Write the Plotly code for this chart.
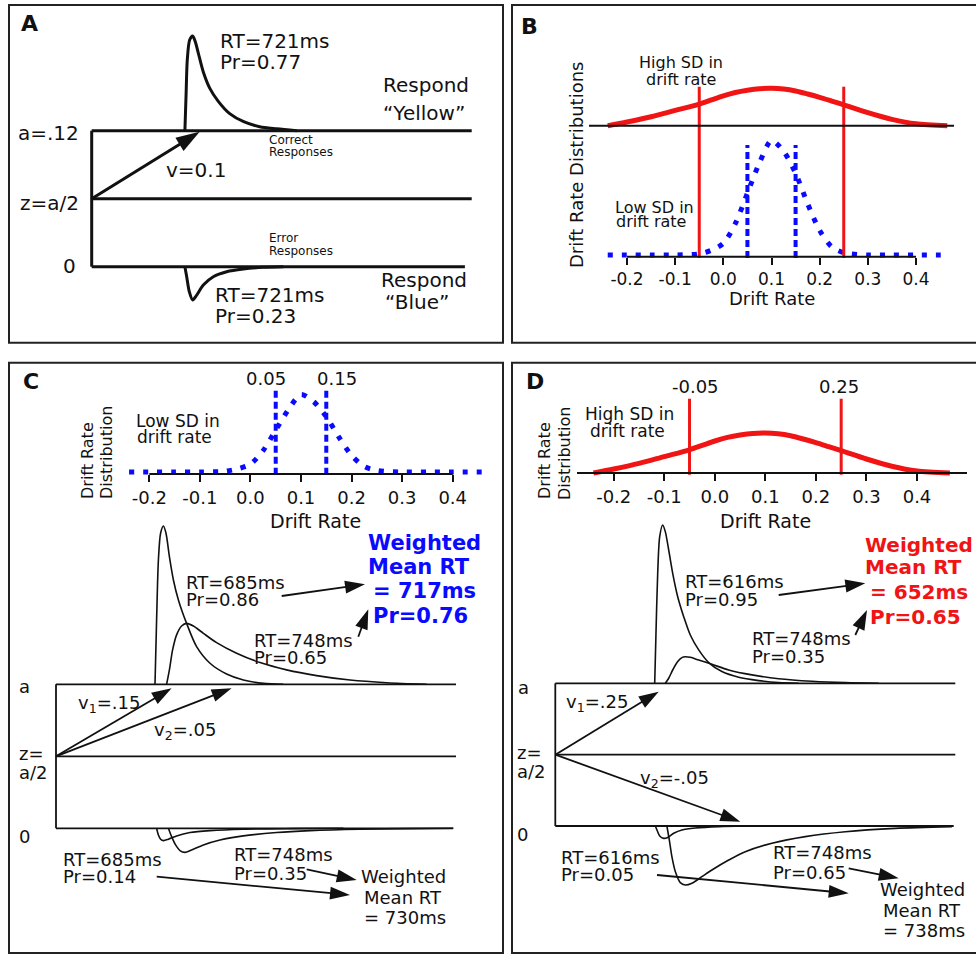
import plotly.graph_objects as go

W, H = 976, 956
FONT = "DejaVu Sans"
INK = "#111111"
BLUE = "#0a0aff"
RED = "#f01414"

# ---------------- data ----------------
drift_grid = [-0.24, -0.2, -0.15, -0.1, -0.05, -0.025, 0.0, 0.025, 0.05, 0.075, 0.1,
              0.125, 0.15, 0.175, 0.2, 0.225, 0.25, 0.3, 0.35, 0.4, 0.465]
low_sd_density = [0, 0, 0, 0, 0.01, 0.04, 0.10, 0.27, 0.53, 0.79, 0.98,
                  0.89, 0.70, 0.44, 0.21, 0.07, 0.02, 0, 0, 0, 0]
high_sd_density = [0.0, 0.10, 0.24, 0.41, 0.58, 0.69, 0.80, 0.89, 0.95, 0.99, 1.0,
                   0.98, 0.93, 0.85, 0.76, 0.66, 0.56, 0.35, 0.17, 0.05, 0.0]
high_to_low_peak_ratio = 0.32
drift_ticks = [-0.2, -0.1, 0.0, 0.1, 0.2, 0.3, 0.4]
drift_tick_labels = ["-0.2", "-0.1", "0.0", "0.1", "0.2", "0.3", "0.4"]
low_sd_marks = [0.05, 0.15]
high_sd_marks = [-0.05, 0.25]

# Panel A: one drift rate; boundary a=.12, start z=a/2 (time in s, density rel. to correct peak)
bound_A = 0.12
start_A = 0.06
a_t_correct = [0.466, 0.472, 0.478, 0.49, 0.505, 0.518, 0.533, 0.558, 0.59, 0.633, 0.69, 0.76, 0.84, 0.925, 1.025]
a_d_correct = [0, 0.39, 0.75, 0.96, 1.0, 0.94, 0.82, 0.62, 0.45, 0.31, 0.18, 0.095, 0.042, 0.02, 0.0]
a_t_error = [0.466, 0.475, 0.488, 0.505, 0.525, 0.558, 0.608, 0.675, 0.758, 0.858, 0.958]
a_d_error = [0, 0.106, 0.264, 0.352, 0.30, 0.194, 0.106, 0.053, 0.025, 0.007, 0]

# Panels C, D: relative boundary a=1, start z=a/2
bound = 1.0
start = 0.5
c_t_fast_correct = [0.495, 0.503, 0.512, 0.523, 0.537, 0.55, 0.567, 0.587, 0.612, 0.653, 0.703, 0.77, 0.853, 0.937, 1.037, 1.137]
c_d_fast_correct = [0, 0.406, 0.785, 0.954, 1.0, 0.954, 0.806, 0.659, 0.533, 0.385, 0.238, 0.133, 0.065, 0.027, 0.006, 0]
c_t_slow_correct = [0.553, 0.567, 0.583, 0.603, 0.628, 0.653, 0.687, 0.737, 0.803, 0.903, 1.02, 1.153, 1.303, 1.47, 1.653, 1.853]
c_d_slow_correct = [0, 0.091, 0.217, 0.312, 0.368, 0.385, 0.368, 0.322, 0.263, 0.196, 0.137, 0.091, 0.055, 0.027, 0.01, 0]
c_t_fast_error = [0.503, 0.512, 0.523, 0.537, 0.562, 0.603, 0.67, 0.77, 0.937, 1.187, 1.437]
c_d_fast_error = [0, 0.042, 0.069, 0.078, 0.069, 0.048, 0.027, 0.015, 0.006, 0.002, 0]
c_t_slow_error = [0.562, 0.578, 0.598, 0.62, 0.645, 0.678, 0.737, 0.82, 0.937, 1.103, 1.27, 1.52, 1.77, 1.987]
c_d_slow_error = [0, 0.053, 0.105, 0.141, 0.152, 0.137, 0.105, 0.074, 0.048, 0.027, 0.015, 0.006, 0.002, 0]

d_t_fast_correct = [0.497, 0.503, 0.512, 0.522, 0.537, 0.55, 0.567, 0.587, 0.612, 0.642, 0.675, 0.717, 0.767, 0.833, 0.917, 1.017, 1.117, 1.217]
d_d_fast_correct = [0, 0.295, 0.695, 0.926, 1.0, 0.958, 0.842, 0.695, 0.547, 0.421, 0.305, 0.211, 0.131, 0.074, 0.038, 0.017, 0.004, 0]
d_t_slow_correct = [0.55, 0.567, 0.587, 0.612, 0.633, 0.65, 0.675, 0.717, 0.783, 0.867, 0.983, 1.117, 1.283, 1.45, 1.617]
d_d_slow_correct = [0, 0.032, 0.084, 0.137, 0.162, 0.168, 0.164, 0.147, 0.12, 0.084, 0.053, 0.029, 0.013, 0.004, 0]
d_t_fast_error = [0.5, 0.512, 0.522, 0.542, 0.562, 0.592, 0.633, 0.7, 0.817, 0.95]
d_d_fast_error = [0, 0.036, 0.063, 0.078, 0.072, 0.046, 0.025, 0.013, 0.004, 0]
d_t_slow_error = [0.558, 0.57, 0.583, 0.6, 0.625, 0.65, 0.683, 0.733, 0.783, 0.867, 0.95, 1.083, 1.25, 1.45, 1.7, 1.983]
d_d_slow_error = [0, 0.088, 0.194, 0.288, 0.358, 0.373, 0.362, 0.32, 0.278, 0.215, 0.162, 0.109, 0.067, 0.036, 0.015, 0.004]

# ---------------- layout helpers ----------------
fig = go.Figure()
layout = {}
shapes = []
annotations = []


def px(x):
    return x / W


def py(y):
    return 1 - y / H


def names(n):
    return ("x" if n == 1 else f"x{n}"), ("y" if n == 1 else f"y{n}")


def add_axes(n, xdom, ydom, xmap, ymap):
    pa, va, pb, vb = xmap
    qa, wa, qb, wb = ymap

    def fx(p):
        return va + (p - pa) * (vb - va) / (pb - pa)

    def fy(q):
        return wa + (q - qa) * (wb - wa) / (qb - qa)

    xn = "xaxis" if n == 1 else f"xaxis{n}"
    yn = "yaxis" if n == 1 else f"yaxis{n}"
    layout[xn] = dict(domain=[px(xdom[0]), px(xdom[1])], range=[fx(xdom[0]), fx(xdom[1])],
                      anchor=names(n)[1], visible=False, fixedrange=True)
    ytop, ybot = ydom
    layout[yn] = dict(domain=[py(ybot), py(ytop)], range=[fy(ybot), fy(ytop)],
                      anchor=names(n)[0], visible=False, fixedrange=True)
    return fx, fy


def drift_axis(n, axis_py, fontsize):
    xn = f"xaxis{n}"
    layout[xn].update(dict(visible=True, anchor="free", position=py(axis_py), showline=False,
                           showgrid=False, zeroline=False, tickvals=drift_ticks,
                           ticktext=drift_tick_labels, ticks="outside", ticklen=7, tickwidth=2,
                           tickcolor=INK, tickfont=dict(family=FONT, size=fontsize, color=INK)))


def line(n, x, y, width, color=INK, dash=None, spline=False):
    xa, ya = names(n)
    ln = dict(width=width, color=color)
    if dash:
        ln["dash"] = dash
    if spline:
        ln["shape"] = "spline"
        ln["smoothing"] = 0.8
    fig.add_trace(go.Scatter(x=x, y=y, xaxis=xa, yaxis=ya, mode="lines", line=ln,
                             hoverinfo="skip", showlegend=False))


def arrow(n, x0, y0, x1, y1, width, size, color=INK):
    xa, ya = names(n)
    fig.add_trace(go.Scatter(x=[x0, x1], y=[y0, y1], xaxis=xa, yaxis=ya, mode="lines+markers",
                             line=dict(width=width, color=color),
                             marker=dict(symbol="arrow", size=[0, size], angleref="previous",
                                         color=color, opacity=1, line=dict(width=0)),
                             hoverinfo="skip", showlegend=False))


def T(text, x, y, size=18, anchor="left", color=INK, bold=False, angle=0):
    if bold:
        text = f"<b>{text}</b>"
    annotations.append(dict(text=text, x=px(x), y=py(y), xref="paper", yref="paper",
                            xanchor=anchor, yanchor="middle", showarrow=False, borderpad=0,
                            textangle=angle, font=dict(family=FONT, size=size, color=color)))


def frame(x0, y0, x1, y1):
    shapes.append(dict(type="rect", xref="paper", yref="paper", x0=px(x0), x1=px(x1),
                       y0=py(y1), y1=py(y0), line=dict(color="#222222", width=2)))


frame(9, 5, 503, 342.7)
frame(512, 5, 990, 342.7)
frame(9, 362.7, 503, 953)
frame(512, 362.7, 990, 953)

# ---------------- Panel A ----------------
fxA, fyA = add_axes(1, (40, 500), (12, 338), (91.7, 0, 291.7, 1), (266.7, 0, 130.7, bound_A))
A_SCALE = bound_A * 94.7 / 136.0
tA_end, tA_end_low = 1.9, 1.866
line(1, [0, tA_end], [bound_A, bound_A], 3)
line(1, [0, tA_end], [start_A, start_A], 3)
line(1, [0, tA_end_low], [0, 0], 3)
line(1, [0, 0], [0, bound_A], 3)
line(1, a_t_correct, [bound_A + d * A_SCALE for d in a_d_correct], 3, spline=True)
line(1, a_t_error, [0 - d * A_SCALE for d in a_d_error], 3, spline=True)
arrow(1, 0, start_A, 0.54, 0.119, 3, 25)

T("A", 20, 24, 22, bold=True)
T("a=.12", 80, 133, 20, anchor="right")
T("z=a/2", 80, 203, 20, anchor="right")
T("0", 77, 266, 20, anchor="right")
T("v=0.1", 165, 170, 20)
T("RT=721ms", 219, 41, 20)
T("Pr=0.77", 219, 62, 20)
T("Respond", 382, 85, 20)
T("\u201cYellow\u201d", 382, 113, 20)
T("Correct", 268, 140, 12)
T("Responses", 268, 152, 12)
T("Error", 268, 238, 12)
T("Responses", 268, 251, 12)
T("RT=721ms", 214, 295, 20)
T("Pr=0.23", 214, 316, 20)
T("Respond", 380, 280, 20)
T("\u201cBlue\u201d", 417, 302, 20, anchor="center")

# ---------------- Panel B ----------------
fxB, fyB = add_axes(2, (580, 970), (40, 268), (627, -0.2, 916, 0.4), (255, 0, 138.3, 1))
drift_axis(2, 256.7, 17)
red_base_B = fyB(125.7)
shapes.append(dict(type="line", xref="x2", yref="y2", x0=fxB(589), x1=fxB(954), y0=red_base_B,
                   y1=red_base_B, line=dict(color=INK, width=2)))
shapes.append(dict(type="line", xref="x2", yref="y2", x0=-0.2, x1=0.4, y0=fyB(256.7),
                   y1=fyB(256.7), line=dict(color=INK, width=2)))
line(2, drift_grid, [red_base_B + d * high_to_low_peak_ratio for d in high_sd_density], 5, RED, spline=True)
line(2, drift_grid, low_sd_density, 5, BLUE, dash="5px,9px", spline=True)
for m in high_sd_marks:
    line(2, [m, m], [fyB(258), fyB(86.7)], 3, RED)
for m in low_sd_marks:
    line(2, [m, m], [fyB(258), fyB(145)], 4, BLUE, dash="7px,4px")

T("B", 520, 26, 22, bold=True)
T("High SD in", 638, 63, 16)
T("drift rate", 645, 79, 16)
T("Low SD in", 614, 207, 16)
T("drift rate", 615, 222, 16)
T("Drift Rate Distributions", 577, 165, 18, anchor="center", angle=-90)
T("Drift Rate", 772, 298, 18, anchor="center")

# ---------------- Panel C (top: distribution) ----------------
fxC, fyC = add_axes(3, (115, 498), (368, 482), (149.3, -0.2, 452.7, 0.4), (472, 0, 393, 1))
drift_axis(3, 474, 18)
shapes.append(dict(type="line", xref="x3", yref="y3", x0=-0.2, x1=0.4, y0=fyC(474),
                   y1=fyC(474), line=dict(color=INK, width=2)))
line(3, drift_grid, low_sd_density, 5, BLUE, dash="5px,9px", spline=True)
for m in low_sd_marks:
    line(3, [m, m], [fyC(474.7), fyC(389.7)], 4, BLUE, dash="7px,4px")

T("C", 22, 382, 22, bold=True)
T("0.05", 266, 378, 18, anchor="center")
T("0.15", 337, 378, 18, anchor="center")
T("Low SD in", 135, 421, 17)
T("drift rate", 136, 437, 17)
T("Drift Rate", 88, 461, 16, anchor="center", angle=-90)
T("Distribution", 106, 453, 16, anchor="center", angle=-90)
T("Drift Rate", 315, 521, 19, anchor="center")

# ---------------- Panel C (bottom: diffusion) ----------------
fxC2, fyC2 = add_axes(4, (30, 500), (515, 900), (56, 0, 256, 1), (828.3, 0, 684.3, bound))
C_SCALE = 158.3 / 144.0
line(4, [0, 2.0], [bound, bound], 1.8)
line(4, [0, 2.0], [start, start], 1.8)
line(4, [0, 1.985], [0, 0], 1.8)
line(4, [0, 0], [0, bound], 1.8)
line(4, c_t_fast_correct, [bound + d * C_SCALE for d in c_d_fast_correct], 1.6, spline=True)
line(4, c_t_slow_correct, [bound + d * C_SCALE for d in c_d_slow_correct], 1.6, spline=True)
line(4, c_t_fast_error, [0 - d * C_SCALE for d in c_d_fast_error], 1.6, spline=True)
line(4, c_t_slow_error, [0 - d * C_SCALE for d in c_d_slow_error], 1.6, spline=True)
arrow(4, 0, start, 0.578, 0.972, 1.8, 21)
arrow(4, 0, start, 0.878, 0.972, 1.8, 21)

T("a", 18, 686)
T("z=", 18, 753)
T("a/2", 18, 772)
T("0", 18, 836)
T("v<sub>1</sub>=.15", 77, 704)
T("v<sub>2</sub>=.05", 153, 731)
T("RT=685ms", 185, 582)
T("Pr=0.86", 185, 599)
T("RT=748ms", 253, 640)
T("Pr=0.65", 253, 657)
T("Weighted", 367, 543, 21, color=BLUE, bold=True)
T("Mean RT", 367, 567, 21, color=BLUE, bold=True)
T("= 717ms", 372, 591, 21, color=BLUE, bold=True)
T("Pr=0.76", 372, 616, 21, color=BLUE, bold=True)
T("RT=685ms", 62, 859)
T("Pr=0.14", 62, 876)
T("RT=748ms", 233, 854)
T("Pr=0.35", 233, 873)
T("Weighted", 360, 876)
T("Mean RT", 363, 897)
T("= 730ms", 363, 917)

# ---------------- Panel D (top: distribution) ----------------
fxD, fyD = add_axes(5, (575, 975), (390, 482), (613.7, -0.2, 917, 0.4), (473, 0, 348, 1))
drift_axis(5, 473, 18)
shapes.append(dict(type="line", xref="x5", yref="y5", x0=fxD(577), x1=fxD(967), y0=0,
                   y1=0, line=dict(color=INK, width=2)))
line(5, drift_grid, [d * high_to_low_peak_ratio for d in high_sd_density], 5, RED, spline=True)
for m in high_sd_marks:
    line(5, [m, m], [fyD(474.7), fyD(398.7)], 3, RED)

T("D", 525, 382, 22, bold=True)
T("-0.05", 695.5, 386, 18, anchor="center")
T("0.25", 839.3, 386, 18, anchor="center")
T("High SD in", 584, 414, 17)
T("drift rate", 589, 431, 17)
T("Drift Rate", 545, 461, 16, anchor="center", angle=-90)
T("Distribution", 564, 454, 16, anchor="center", angle=-90)
T("Drift Rate", 765, 521, 19, anchor="center")

# ---------------- Panel D (bottom: diffusion) ----------------
fxD2, fyD2 = add_axes(6, (520, 975), (515, 900), (555.3, 0, 755.3, 1), (826, 0, 683.3, bound))
D_SCALE = 158.3 / 142.7
line(6, [0, 2.0], [bound, bound], 1.8)
line(6, [0, 2.0], [start, start], 1.8)
line(6, [0, 1.992], [0, 0], 1.8)
line(6, [0, 0], [0, bound], 1.8)
line(6, d_t_fast_correct, [bound + d * D_SCALE for d in d_d_fast_correct], 1.6, spline=True)
line(6, d_t_slow_correct, [bound + d * D_SCALE for d in d_d_slow_correct], 1.6, spline=True)
line(6, d_t_fast_error, [0 - d * D_SCALE for d in d_d_fast_error], 1.6, spline=True)
line(6, d_t_slow_error, [0 - d * D_SCALE for d in d_d_slow_error], 1.6, spline=True)
arrow(6, 0, start, 0.517, 0.941, 1.8, 21)
arrow(6, 0, start, 0.925, 0.03, 1.8, 21)

T("a", 517, 687)
T("z=", 516, 752)
T("a/2", 516, 771)
T("0", 516, 834)
T("v<sub>1</sub>=.25", 565, 703)
T("v<sub>2</sub>=-.05", 639, 779)
T("RT=616ms", 684, 581)
T("Pr=0.95", 684, 599)
T("RT=748ms", 751, 638)
T("Pr=0.35", 751, 656)
T("Weighted", 864, 545, 20, color=RED, bold=True)
T("Mean RT", 864, 567, 20, color=RED, bold=True)
T("= 652ms", 869, 592, 20, color=RED, bold=True)
T("Pr=0.65", 869, 617, 20, color=RED, bold=True)
T("RT=616ms", 560, 857)
T("Pr=0.05", 560, 874)
T("RT=748ms", 772, 852)
T("Pr=0.65", 772, 872)
T("Weighted", 879, 889)
T("Mean RT", 882, 910)
T("= 738ms", 882, 930)

# ---------------- pixel overlay for text-to-text arrows ----------------
add_axes(7, (0, 976), (0, 956), (0, 0, 976, 976), (0, 0, 956, 956))
text_arrows = [
    (281.7, 596, 365, 584.3), (358.3, 636.7, 368.3, 609.3),
    (156.7, 876.7, 350, 895), (306.7, 869.3, 356.7, 880),
    (778.7, 595, 865.3, 583.3), (855.3, 635, 867, 610),
    (657, 875, 848.7, 893.3), (848.7, 868.3, 898.7, 878.3),
]
for x0, y0, x1, y1 in text_arrows:
    arrow(7, x0, y0, x1, y1, 1.8, 21)

fig.update_layout(
    width=W, height=H, margin=dict(l=0, r=0, t=0, b=0, pad=0),
    paper_bgcolor="white", plot_bgcolor="rgba(0,0,0,0)",
    showlegend=False, shapes=shapes, annotations=annotations,
    font=dict(family=FONT, color=INK), **layout,
)
fig.write_html("out.html")
